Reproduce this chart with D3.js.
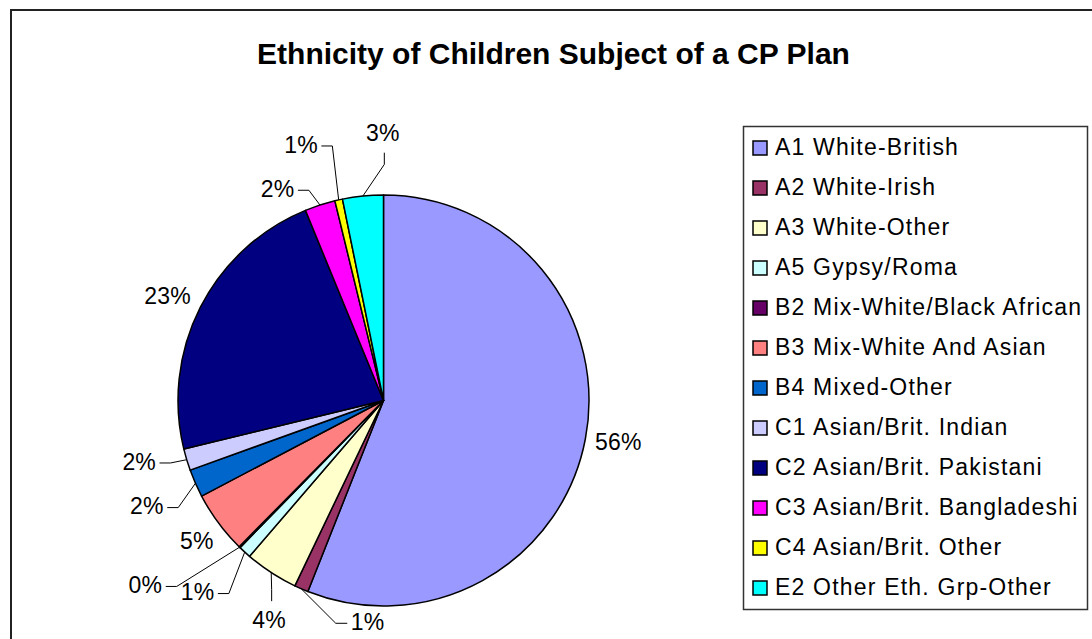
<!DOCTYPE html>
<html>
<head>
<meta charset="utf-8">
<script src="https://cdn.jsdelivr.net/npm/d3@7"></script>
<style>
  html, body { margin: 0; padding: 0; background: #fff; }
  svg { display: block; font-family: "Liberation Sans", Arial, sans-serif; }
</style>
</head>
<body>
<svg id="chart" width="1092" height="639"></svg>
<script>
// ---- data ----
const title = "Ethnicity of Children Subject of a CP Plan";
const categories = [
  "A1 White-British", "A2 White-Irish", "A3 White-Other", "A5 Gypsy/Roma",
  "B2 Mix-White/Black African", "B3 Mix-White And Asian", "B4 Mixed-Other",
  "C1 Asian/Brit. Indian", "C2 Asian/Brit. Pakistani", "C3 Asian/Brit. Bangladeshi",
  "C4 Asian/Brit. Other", "E2 Other Eth. Grp-Other"
];
const values = [56.0, 1.1, 4.2, 1.0, 0.1, 4.9, 2.2, 1.7, 22.6, 2.4, 0.6, 3.2];
const colors = ["#9999FF", "#993366", "#FFFFCC", "#CCFFFF", "#660066", "#FF8080",
                "#0066CC", "#CCCCFF", "#000080", "#FF00FF", "#FFFF00", "#00FFFF"];

// ---- layout (label placement tweaks, not data) ----
const labelNudge = [[3,-3],[78.5,5],[14.6,22],[-26.6,17.5],[-72.8,16],[3,0],
                    [-20.6,10.5],[-18.3,-7],[-5.7,2],[-33,12.7],[-31,-25.7],[23,-33]];
const leaderKind = ["none","right","up","left","left","none","left","left","none","left","left","down"];

const svg = d3.select("#chart");

// chart area border
svg.append("rect").attr("x", 11).attr("y", 10).attr("width", 1200).attr("height", 800)
  .attr("fill", "#fff").attr("stroke", "#222").attr("stroke-width", 2);

// title
svg.append("text").attr("x", 553.5).attr("y", 63.5).attr("text-anchor", "middle")
  .attr("font-size", 30).attr("font-weight", "bold").attr("fill", "#000").text(title);

// pie
const cx = 383.5, cy = 400.5, r = 205.5;
const g = svg.append("g").attr("transform", `translate(${cx},${cy})`);
const total = d3.sum(values);
const pie = d3.pie().sort(null).value(d => d)(values);
const arc = d3.arc().innerRadius(0).outerRadius(r);

g.selectAll("path.slice").data(pie).join("path")
  .attr("class", "slice")
  .attr("d", arc)
  .attr("fill", (d, i) => colors[i])
  .attr("stroke", "#000").attr("stroke-width", 1.5).attr("stroke-linejoin", "round");

const fmt = d3.format(".0%");
const R = 236;
function polar(a, rad) { return [rad * Math.sin(a), -rad * Math.cos(a)]; }

pie.forEach((d, i) => {
  const mid = (d.startAngle + d.endAngle) / 2;
  const base = polar(mid, R);
  const lx = base[0] + labelNudge[i][0], ly = base[1] + labelNudge[i][1];
  const t = g.append("text")
    .attr("x", lx).attr("y", ly + 8.2)
    .attr("text-anchor", "middle")
    .attr("font-size", 23).attr("letter-spacing", 0.2)
    .attr("fill", "#000")
    .text(fmt(d.value / total));
  const tw = t.node().getComputedTextLength();
  const edge = polar(mid, r);
  let pts = null;
  const k = leaderKind[i];
  if (k === "left") {
    const ex = lx + tw / 2 + 3.5, ey = ly + 1.5;
    pts = [edge, [ex + 11, ey], [ex, ey]];
  } else if (k === "right") {
    const ex = lx - tw / 2 - 3.5, ey = ly + 1.5;
    pts = [edge, [ex - 11.5, ey], [ex, ey]];
  } else if (k === "down") {
    const ex = lx + 1.5, ey = ly + 20;
    pts = [edge, [ex, ey + 11.7], [ex, ey]];
  } else if (k === "up") {
    const ex = lx + 2.5, ey = ly - 19;
    pts = [edge, [ex, ey - 11.7], [ex, ey]];
  }
  if (pts) {
    g.append("path").attr("d", d3.line()(pts))
      .attr("fill", "none").attr("stroke", "#000").attr("stroke-width", 1);
  }
});

// legend
const lg = svg.append("g");
lg.append("rect").attr("x", 743.5).attr("y", 126.5).attr("width", 344).attr("height", 483)
  .attr("fill", "#fff").attr("stroke", "#333").attr("stroke-width", 1.5);
const rowY = d3.scalePoint().domain(categories).range([155, 155 + 40 * (categories.length - 1)]);
const items = lg.selectAll("g.item").data(categories).join("g").attr("class", "item")
  .attr("transform", d => `translate(0,${rowY(d)})`);
items.append("rect").attr("x", 753).attr("y", -14).attr("width", 14).attr("height", 14)
  .attr("fill", (d, i) => colors[i]).attr("stroke", "#000").attr("stroke-width", 1.5);
items.append("text").attr("x", 775).attr("y", 0)
  .attr("font-size", 23).attr("letter-spacing", 1.2).attr("fill", "#000")
  .text(d => d);
</script>
</body>
</html>
